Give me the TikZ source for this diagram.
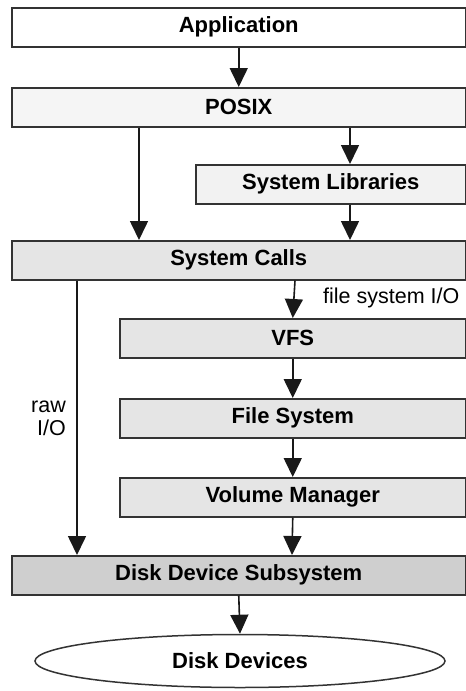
\documentclass[tikz,border=0pt]{standalone}
\usepackage{fontspec}
\setmainfont{Liberation Sans}
\usetikzlibrary{arrows.meta,shapes.geometric}
\begin{document}
\begin{tikzpicture}[x=1pt,y=-1pt,
  layer/.style={draw=black!80, line width=1.5pt, anchor=north west, minimum height=39pt,
    inner sep=0pt, font=\fontsize{22}{26}\selectfont\bfseries},
  arr/.style={line width=1.6pt, black!90, -{Triangle[width=18pt,length=19pt]}},
  lbl/.style={font=\fontsize{21.5}{25}\selectfont, inner sep=0pt}]
\useasboundingbox (0,0) rectangle (466,691);
\node[layer, fill=white, minimum width=454pt] (app) at (11,7) {Application};
\node[layer, fill=black!4, minimum width=454pt] (posix) at (11,87) {POSIX};
\node[layer, fill=black!5, minimum width=270pt] (syslib) at (195,164) {System Libraries};
\node[layer, fill=black!10, minimum width=454pt] (syscalls) at (11,240) {System Calls};
\node[layer, fill=black!10, minimum width=346pt] (vfs) at (119,318) {VFS};
\node[layer, fill=black!10, minimum width=346pt] (fs) at (119,398) {File System};
\node[layer, fill=black!10, minimum width=346pt] (vm) at (119,477) {Volume Manager};
\node[layer, fill=black!19, minimum width=454pt] (dds) at (11,555) {Disk Device Subsystem};
\node[ellipse, draw=black!80, line width=1.5pt, fill=white, minimum width=410pt, minimum height=53pt,
  font=\fontsize{22}{26}\selectfont\bfseries] (disks) at (240,661) {Disk Devices};

\draw[arr] (app.south) -- (posix.north);
\draw[arr] ([xshift=128pt]posix.south west) -- ([xshift=128pt]syscalls.north west);
\draw[arr] ([xshift=339pt]posix.south west) -- ([xshift=155pt]syslib.north west);
\draw[arr] ([xshift=155pt]syslib.south west) -- ([xshift=339pt]syscalls.north west);
\draw[arr] ([xshift=284pt]syscalls.south west) -- (vfs.north);
\draw[arr] (vfs.south) -- (fs.north);
\draw[arr] (fs.south) -- (vm.north);
\draw[arr] (vm.south) -- ([xshift=281pt]dds.north west);
\draw[arr] ([xshift=66pt]syscalls.south west) -- ([xshift=66pt]dds.north west);
\draw[arr] (dds.south) -- (disks.north);

\node[lbl, anchor=west] (fsio) at (323,298) {file system I/O};
\node[lbl, align=right, anchor=east, font=\fontsize{21.5}{23}\selectfont] (raw) at (66,418) {raw\\I/O};
\end{tikzpicture}
\end{document}
